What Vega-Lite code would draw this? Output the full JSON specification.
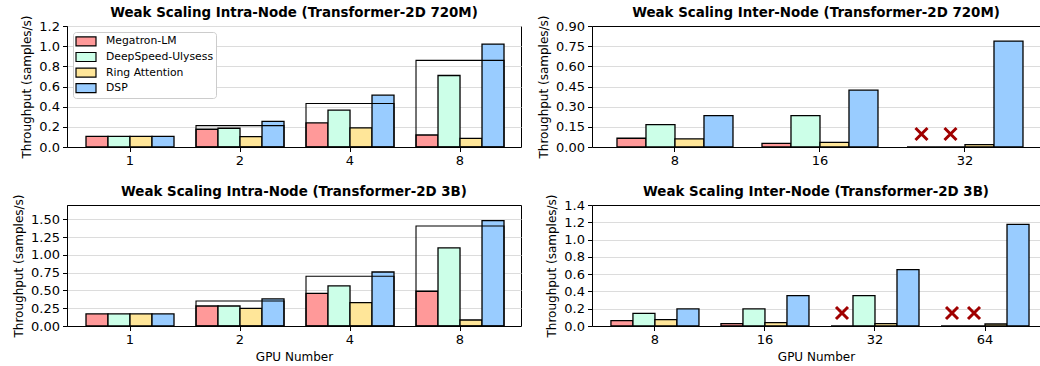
{
  "$schema": "https://vega.github.io/schema/vega-lite/v6.json",
  "background": "white",
  "padding": {"left": 12, "top": 5, "right": 0, "bottom": 0},
  "config": {
    "font": "DejaVu Sans",
    "view": {"stroke": "black", "strokeWidth": 1},
    "axis": {
      "labelFont": "DejaVu Sans", "titleFont": "DejaVu Sans",
      "domainColor": "black", "domainWidth": 1,
      "tickColor": "black", "tickSize": 4.5, "tickWidth": 1,
      "labelFontSize": 13, "labelColor": "black", "labelPadding": 3, "labelOverlap": false,
      "titleFontSize": 12, "titleFontWeight": "normal", "titleColor": "black", "titlePadding": 5
    },
    "axisX": {"grid": false, "labelAngle": 0},
    "axisY": {"grid": true, "gridColor": "#dcdcdc", "gridWidth": 1, "tickCount": 12},
    "legend": {"labelFont": "DejaVu Sans"},
    "title": {"font": "DejaVu Sans", "fontSize": 13.4, "fontWeight": "bold", "color": "black", "offset": -4}
  },
  "datasets": {
    "a": [
      {"gpu": "1", "method": "Megatron-LM", "value": 0.105},
      {"gpu": "1", "method": "DeepSpeed-Ulysess", "value": 0.105},
      {"gpu": "1", "method": "Ring Attention", "value": 0.105},
      {"gpu": "1", "method": "DSP", "value": 0.105},
      {"gpu": "2", "method": "Megatron-LM", "value": 0.176},
      {"gpu": "2", "method": "DeepSpeed-Ulysess", "value": 0.186},
      {"gpu": "2", "method": "Ring Attention", "value": 0.103},
      {"gpu": "2", "method": "DSP", "value": 0.255},
      {"gpu": "4", "method": "Megatron-LM", "value": 0.239},
      {"gpu": "4", "method": "DeepSpeed-Ulysess", "value": 0.365},
      {"gpu": "4", "method": "Ring Attention", "value": 0.189},
      {"gpu": "4", "method": "DSP", "value": 0.514},
      {"gpu": "8", "method": "Megatron-LM", "value": 0.119},
      {"gpu": "8", "method": "DeepSpeed-Ulysess", "value": 0.709},
      {"gpu": "8", "method": "Ring Attention", "value": 0.086},
      {"gpu": "8", "method": "DSP", "value": 1.021}
    ],
    "ideal_a": [
      {"gpu": "2", "ideal": 0.212},
      {"gpu": "4", "ideal": 0.431},
      {"gpu": "8", "ideal": 0.859}
    ],
    "b": [
      {"gpu": "8", "method": "Megatron-LM", "value": 0.065},
      {"gpu": "8", "method": "DeepSpeed-Ulysess", "value": 0.167},
      {"gpu": "8", "method": "Ring Attention", "value": 0.06},
      {"gpu": "8", "method": "DSP", "value": 0.234},
      {"gpu": "16", "method": "Megatron-LM", "value": 0.027},
      {"gpu": "16", "method": "DeepSpeed-Ulysess", "value": 0.234},
      {"gpu": "16", "method": "Ring Attention", "value": 0.035},
      {"gpu": "16", "method": "DSP", "value": 0.423},
      {"gpu": "32", "method": "Megatron-LM", "value": 0},
      {"gpu": "32", "method": "DeepSpeed-Ulysess", "value": 0},
      {"gpu": "32", "method": "Ring Attention", "value": 0.017},
      {"gpu": "32", "method": "DSP", "value": 0.788}
    ],
    "oom_b": [
      {"gpu": "32", "method": "Megatron-LM"},
      {"gpu": "32", "method": "DeepSpeed-Ulysess"}
    ],
    "c": [
      {"gpu": "1", "method": "Megatron-LM", "value": 0.17},
      {"gpu": "1", "method": "DeepSpeed-Ulysess", "value": 0.17},
      {"gpu": "1", "method": "Ring Attention", "value": 0.17},
      {"gpu": "1", "method": "DSP", "value": 0.17},
      {"gpu": "2", "method": "Megatron-LM", "value": 0.281},
      {"gpu": "2", "method": "DeepSpeed-Ulysess", "value": 0.281},
      {"gpu": "2", "method": "Ring Attention", "value": 0.248},
      {"gpu": "2", "method": "DSP", "value": 0.38},
      {"gpu": "4", "method": "Megatron-LM", "value": 0.459},
      {"gpu": "4", "method": "DeepSpeed-Ulysess", "value": 0.563},
      {"gpu": "4", "method": "Ring Attention", "value": 0.328},
      {"gpu": "4", "method": "DSP", "value": 0.759},
      {"gpu": "8", "method": "Megatron-LM", "value": 0.488},
      {"gpu": "8", "method": "DeepSpeed-Ulysess", "value": 1.097},
      {"gpu": "8", "method": "Ring Attention", "value": 0.084},
      {"gpu": "8", "method": "DSP", "value": 1.48}
    ],
    "ideal_c": [
      {"gpu": "2", "ideal": 0.352},
      {"gpu": "4", "ideal": 0.698},
      {"gpu": "8", "ideal": 1.406}
    ],
    "d": [
      {"gpu": "8", "method": "Megatron-LM", "value": 0.062},
      {"gpu": "8", "method": "DeepSpeed-Ulysess", "value": 0.147},
      {"gpu": "8", "method": "Ring Attention", "value": 0.073},
      {"gpu": "8", "method": "DSP", "value": 0.197},
      {"gpu": "16", "method": "Megatron-LM", "value": 0.027},
      {"gpu": "16", "method": "DeepSpeed-Ulysess", "value": 0.197},
      {"gpu": "16", "method": "Ring Attention", "value": 0.039},
      {"gpu": "16", "method": "DSP", "value": 0.351},
      {"gpu": "32", "method": "Megatron-LM", "value": 0},
      {"gpu": "32", "method": "DeepSpeed-Ulysess", "value": 0.351},
      {"gpu": "32", "method": "Ring Attention", "value": 0.027},
      {"gpu": "32", "method": "DSP", "value": 0.652},
      {"gpu": "64", "method": "Megatron-LM", "value": 0},
      {"gpu": "64", "method": "DeepSpeed-Ulysess", "value": 0},
      {"gpu": "64", "method": "Ring Attention", "value": 0.023},
      {"gpu": "64", "method": "DSP", "value": 1.176}
    ],
    "oom_d": [
      {"gpu": "32", "method": "Megatron-LM"},
      {"gpu": "64", "method": "Megatron-LM"},
      {"gpu": "64", "method": "DeepSpeed-Ulysess"}
    ]
  },
  "resolve": {"scale": {"x": "independent", "y": "independent", "xOffset": "independent", "fill": "independent"}, "legend": {"fill": "independent"}},
  "spacing": 16,
  "vconcat": [
    {
      "hconcat": [
        {
          "width": 454, "height": 121,
          "title": "Weak Scaling Intra-Node (Transformer-2D 720M)",
          "layer": [
            {
              "data": {"name": "a"},
              "mark": {"type": "bar", "stroke": "black", "strokeWidth": 1.3},
              "encoding": {
                "x": {"field": "gpu", "type": "nominal", "scale": {"domain": ["1", "2", "4", "8"], "paddingInner": 0.2, "paddingOuter": 0.1636, "align": 0.528}, "axis": {"title": null}},
                "xOffset": {"field": "method", "type": "nominal", "scale": {"domain": ["Megatron-LM", "DeepSpeed-Ulysess", "Ring Attention", "DSP"], "paddingInner": 0, "paddingOuter": 0}},
                "y": {"field": "value", "type": "quantitative", "scale": {"domain": [0, 1.2], "nice": false}, "axis": {"title": "Throughput (samples/s)", "values": [0, 0.2, 0.4, 0.6, 0.8, 1.0, 1.2], "format": ".1f"}},
                "fill": {"field": "method", "type": "nominal",
                  "scale": {"domain": ["Megatron-LM", "DeepSpeed-Ulysess", "Ring Attention", "DSP"], "range": ["#ff9999", "#ccffe8", "#ffe699", "#99ccff"]},
                  "legend": {"title": null, "orient": "top-left", "offset": 5.5, "fillColor": "white", "strokeColor": "#cccccc", "cornerRadius": 3, "padding": 2,
                    "symbolType": "M-1,-0.45H1V0.45H-1Z", "symbolSize": 400, "symbolStrokeColor": "black", "symbolStrokeWidth": 1.2,
                    "labelFontSize": 10.8, "labelColor": "black", "labelOffset": 9, "clipHeight": 14.8, "rowPadding": 0.6}}
              }
            },
            {
              "data": {"name": "ideal_a"},
              "mark": {"type": "bar", "filled": false, "stroke": "black", "strokeWidth": 1.1},
              "encoding": {
                "x": {"field": "gpu", "type": "nominal"},
                "y": {"field": "ideal", "type": "quantitative"}
              }
            }
          ]
        },
        {
          "width": 448, "height": 121,
          "view": {"stroke": null},
          "title": "Weak Scaling Inter-Node (Transformer-2D 720M)",
          "resolve": {"axis": {"x": "independent"}},
          "layer": [
            {
              "data": {"name": "b"},
              "mark": {"type": "bar", "stroke": "black", "strokeWidth": 1.3},
              "encoding": {
                "x": {"field": "gpu", "type": "nominal", "scale": {"domain": ["8", "16", "32"], "paddingInner": 0.2, "paddingOuter": 0.1448, "align": 0.595}, "axis": {"title": null}},
                "xOffset": {"field": "method", "type": "nominal", "scale": {"domain": ["Megatron-LM", "DeepSpeed-Ulysess", "Ring Attention", "DSP"], "paddingInner": 0, "paddingOuter": 0}},
                "y": {"field": "value", "type": "quantitative", "scale": {"domain": [0, 0.9], "nice": false}, "axis": {"title": "Throughput (samples/s)", "values": [0, 0.15, 0.3, 0.45, 0.6, 0.75, 0.9], "format": ".2f"}},
                "fill": {"field": "method", "type": "nominal",
                  "scale": {"domain": ["Megatron-LM", "DeepSpeed-Ulysess", "Ring Attention", "DSP"], "range": ["#ff9999", "#ccffe8", "#ffe699", "#99ccff"]},
                  "legend": null}
              }
            },
            {
              "data": {"name": "oom_b"},
              "mark": {"type": "point", "shape": "M-1,-1L1,1M-1,1L1,-1", "filled": false, "stroke": "#a00000", "strokeWidth": 3, "size": 144, "yOffset": -13, "opacity": 1},
              "encoding": {
                "x": {"field": "gpu", "type": "nominal", "axis": {"orient": "top", "labels": false, "ticks": false, "title": null, "domain": true, "grid": false}},
                "xOffset": {"field": "method", "type": "nominal"},
                "y": {"datum": 0, "type": "quantitative"}
              }
            }
          ]
        }
      ],
      "spacing": 71,
      "bounds": "flush",
      "resolve": {"scale": {"x": "independent", "y": "independent", "xOffset": "independent", "fill": "independent"}, "legend": {"fill": "independent"}}
    },
    {
      "hconcat": [
        {
          "width": 454, "height": 121,
          "title": "Weak Scaling Intra-Node (Transformer-2D 3B)",
          "layer": [
            {
              "data": {"name": "c"},
              "mark": {"type": "bar", "stroke": "black", "strokeWidth": 1.3},
              "encoding": {
                "x": {"field": "gpu", "type": "nominal", "scale": {"domain": ["1", "2", "4", "8"], "paddingInner": 0.2, "paddingOuter": 0.1636, "align": 0.528}, "axis": {"title": "GPU Number"}},
                "xOffset": {"field": "method", "type": "nominal", "scale": {"domain": ["Megatron-LM", "DeepSpeed-Ulysess", "Ring Attention", "DSP"], "paddingInner": 0, "paddingOuter": 0}},
                "y": {"field": "value", "type": "quantitative", "scale": {"domain": [0, 1.7], "nice": false}, "axis": {"title": "Throughput (samples/s)", "values": [0, 0.25, 0.5, 0.75, 1.0, 1.25, 1.5], "format": ".2f"}},
                "fill": {"field": "method", "type": "nominal",
                  "scale": {"domain": ["Megatron-LM", "DeepSpeed-Ulysess", "Ring Attention", "DSP"], "range": ["#ff9999", "#ccffe8", "#ffe699", "#99ccff"]},
                  "legend": null}
              }
            },
            {
              "data": {"name": "ideal_c"},
              "mark": {"type": "bar", "filled": false, "stroke": "black", "strokeWidth": 1.1},
              "encoding": {
                "x": {"field": "gpu", "type": "nominal"},
                "y": {"field": "ideal", "type": "quantitative"}
              }
            }
          ]
        },
        {
          "width": 448, "height": 121,
          "view": {"stroke": null},
          "title": "Weak Scaling Inter-Node (Transformer-2D 3B)",
          "resolve": {"axis": {"x": "independent"}},
          "layer": [
            {
              "data": {"name": "d"},
              "mark": {"type": "bar", "stroke": "black", "strokeWidth": 1.3},
              "encoding": {
                "x": {"field": "gpu", "type": "nominal", "scale": {"domain": ["8", "16", "32", "64"], "paddingInner": 0.2, "paddingOuter": 0.136, "align": 0.633}, "axis": {"title": "GPU Number"}},
                "xOffset": {"field": "method", "type": "nominal", "scale": {"domain": ["Megatron-LM", "DeepSpeed-Ulysess", "Ring Attention", "DSP"], "paddingInner": 0, "paddingOuter": 0}},
                "y": {"field": "value", "type": "quantitative", "scale": {"domain": [0, 1.4], "nice": false}, "axis": {"title": "Throughput (samples/s)", "values": [0, 0.2, 0.4, 0.6, 0.8, 1.0, 1.2, 1.4], "format": ".1f"}},
                "fill": {"field": "method", "type": "nominal",
                  "scale": {"domain": ["Megatron-LM", "DeepSpeed-Ulysess", "Ring Attention", "DSP"], "range": ["#ff9999", "#ccffe8", "#ffe699", "#99ccff"]},
                  "legend": null}
              }
            },
            {
              "data": {"name": "oom_d"},
              "mark": {"type": "point", "shape": "M-1,-1L1,1M-1,1L1,-1", "filled": false, "stroke": "#a00000", "strokeWidth": 3, "size": 144, "yOffset": -13, "opacity": 1},
              "encoding": {
                "x": {"field": "gpu", "type": "nominal", "axis": {"orient": "top", "labels": false, "ticks": false, "title": null, "domain": true, "grid": false}},
                "xOffset": {"field": "method", "type": "nominal"},
                "y": {"datum": 0, "type": "quantitative"}
              }
            }
          ]
        }
      ],
      "spacing": 71,
      "bounds": "flush",
      "resolve": {"scale": {"x": "independent", "y": "independent", "xOffset": "independent", "fill": "independent"}, "legend": {"fill": "independent"}}
    }
  ]
}
